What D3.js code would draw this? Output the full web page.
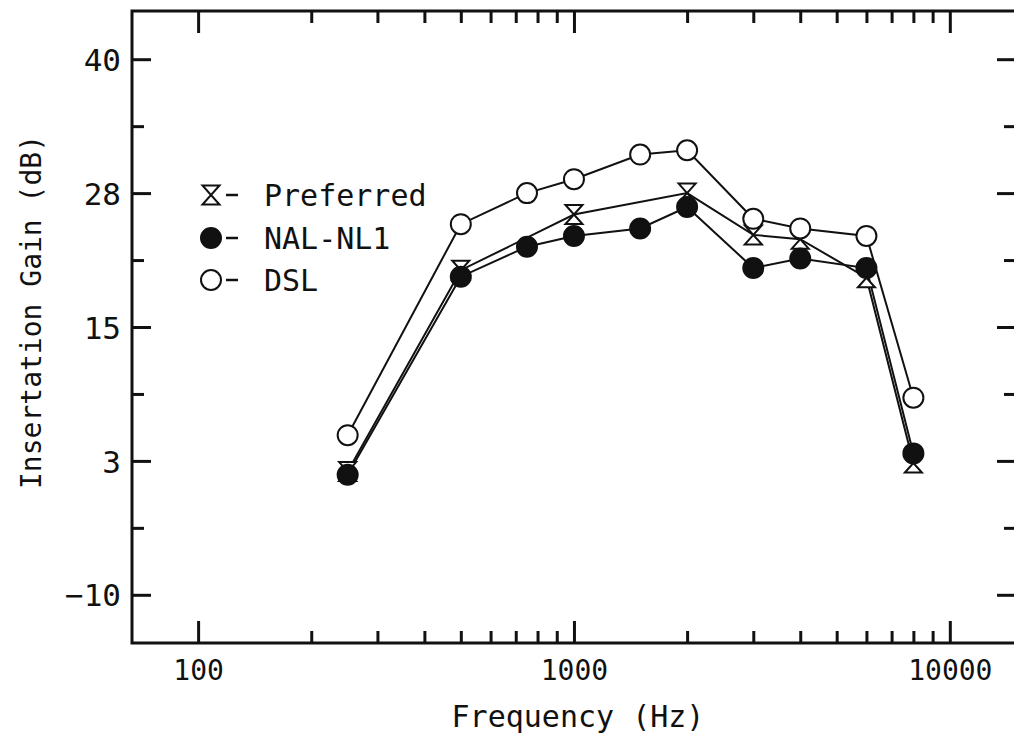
<!DOCTYPE html>
<html>
<head>
<meta charset="utf-8">
<script src="https://cdn.jsdelivr.net/npm/d3@7"></script>
<style>
  body { margin: 0; background: #fff; }
  svg { display: block; }
  text { font-family: "DejaVu Sans Mono", monospace; fill: #111; }
</style>
</head>
<body>
<script>
// Frequencies (Hz) and gains (dB)
const freqs = [250, 500, 750, 1000, 1500, 2000, 3000, 4000, 6000, 8000];
const dslGain = [4.9, 24.6, 27.5, 28.8, 31.1, 31.5, 25.1, 24.2, 23.5, 8.4];
const nalGain = [1.2, 19.7, 22.5, 23.5, 24.2, 26.2, 20.5, 21.4, 20.5, 3.2];
const prefFreqs = [250, 500, 1000, 2000, 3000, 4000, 6000, 8000];
const prefGain = [1.5, 20.3, 25.5, 27.5, 23.6, 23.2, 19.6, 2.3];

const xMajor = [100, 1000, 10000];
const xMinor = [200, 300, 400, 500, 600, 700, 800, 900, 2000, 3000, 4000, 5000, 6000, 7000, 8000, 9000];
const yMajor = [-10, 2.5, 15, 27.5, 40];
const yMinor = [-3.75, 8.75, 21.25, 33.75];

const legendNames = ["Preferred", "NAL-NL1", "DSL"];

const W = 1014, H = 738;
const mLeft = 132, mRight = 1016, mTop = 11, mBottom = 643;

let x = d3.scaleLog().domain([66.7, 15000]).range([mLeft, mRight]);
let y = d3.scaleLinear().domain([-14.5, 44.5]).range([mBottom, mTop]);

let svg = d3.select("body").append("svg")
    .attr("width", W)
    .attr("height", H);

// frame
svg.append("rect")
    .attr("x", mLeft).attr("y", mTop)
    .attr("width", mRight - mLeft).attr("height", mBottom - mTop)
    .attr("fill", "none").attr("stroke", "#111").attr("stroke-width", 3);

function tickAxis(axis, pos, size, values, fmt) {
    let g = svg.append("g")
        .attr("transform", pos)
        .call(axis.tickValues(values).tickSize(size).tickSizeOuter(0).tickFormat(fmt || ""));
    g.select(".domain").remove();
    g.selectAll(".tick line").attr("stroke", "#111").attr("stroke-width", 3);
    return g;
}

// x ticks (inward, bottom and top)
let xb = tickAxis(d3.axisBottom(x), `translate(0,${mBottom})`, -22, xMajor, d => d3.format("d")(d));
xb.selectAll("text").attr("y", 37).attr("dy", 0).style("font-size", "28px").attr("fill", "#111");
tickAxis(d3.axisBottom(x), `translate(0,${mBottom})`, -12, xMinor);
tickAxis(d3.axisTop(x), `translate(0,${mTop})`, -22, xMajor);
tickAxis(d3.axisTop(x), `translate(0,${mTop})`, -12, xMinor);

// y ticks (inward, left and right)
let yl = tickAxis(d3.axisLeft(y), `translate(${mLeft},0)`, -19, yMajor, d => Math.round(d) < 0 ? "\u2212" + Math.abs(Math.round(d)) : Math.round(d));
yl.selectAll("text").attr("x", -11).attr("dy", "0.36em").style("font-size", "31px").attr("fill", "#111");
tickAxis(d3.axisLeft(y), `translate(${mLeft},0)`, -12, yMinor);
tickAxis(d3.axisRight(y), `translate(${mRight},0)`, -19, yMajor);
tickAxis(d3.axisRight(y), `translate(${mRight},0)`, -12, yMinor);

// axis titles
svg.append("text")
    .attr("x", (198 + 950) / 2 + 4).attr("y", 727)
    .attr("text-anchor", "middle")
    .style("font-size", "30px")
    .text("Frequency (Hz)");

svg.append("text")
    .attr("transform", "translate(41,312) rotate(-90)")
    .attr("text-anchor", "middle")
    .style("font-size", "28px")
    .text("Insertation Gain (dB)");

// series
let dsl = freqs.map((f, i) => [f, dslGain[i]]);
let nal = freqs.map((f, i) => [f, nalGain[i]]);
let pref = prefFreqs.map((f, i) => [f, prefGain[i]]);

let line = d3.line().x(d => x(d[0])).y(d => y(d[1]));

[pref, nal, dsl].forEach(s => {
    svg.append("path")
        .attr("d", line(s))
        .attr("fill", "none")
        .attr("stroke", "#111")
        .attr("stroke-width", 2);
});

// hourglass marker
function hourglass(w, h) {
    return `M${-w / 2},${-h / 2}L${w / 2},${-h / 2}L${-w / 2},${h / 2}L${w / 2},${h / 2}Z`;
}

function drawPref(g, pts) {
    g.selectAll(null).data(pts).enter().append("path")
        .attr("transform", d => `translate(${d[0]},${d[1]})`)
        .attr("d", hourglass(17, 19))
        .attr("fill", "#fff").attr("stroke", "#111").attr("stroke-width", 2);
}
function drawCircle(g, pts, fill) {
    g.selectAll(null).data(pts).enter().append("circle")
        .attr("cx", d => d[0]).attr("cy", d => d[1]).attr("r", 10)
        .attr("fill", fill).attr("stroke", "#111").attr("stroke-width", 2);
}

let marks = svg.append("g");
drawPref(marks, pref.map(d => [x(d[0]), y(d[1])]));
drawCircle(marks, nal.map(d => [x(d[0]), y(d[1])]), "#111");
drawCircle(marks, dsl.map(d => [x(d[0]), y(d[1])]), "#fff");

// legend
const legY = [195, 238, 280];
let leg = svg.append("g");
drawPref(leg, [[211, legY[0]]]);
drawCircle(leg, [[211, legY[1]]], "#111");
drawCircle(leg, [[211, legY[2]]], "#fff");
legY.forEach((ly, i) => {
    leg.append("line")
        .attr("x1", 226).attr("x2", 238).attr("y1", ly).attr("y2", ly)
        .attr("stroke", "#111").attr("stroke-width", 2.5);
    leg.append("text")
        .attr("x", 264).attr("y", ly + 11)
        .style("font-size", "30px")
        .text(legendNames[i]);
});
</script>
</body>
</html>
